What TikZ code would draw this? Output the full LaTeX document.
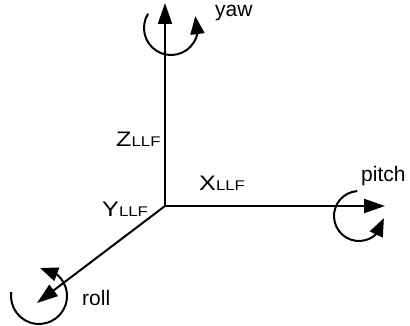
\documentclass[tikz,border=0pt]{standalone}
\usepackage{fontspec}
\setmainfont{Liberation Sans}
\newfontfamily\axfont[FakeStretch=1.2]{Liberation Sans}
\usetikzlibrary{arrows.meta,bending,calc}
\newcommand{\axlab}[1]{{\axfont\fontsize{21}{21}\selectfont #1}{\axfont\fontsize{14}{14}\selectfont LLF}}
\begin{document}
\begin{tikzpicture}[x=1pt,y=-1pt,
  axis/.style={line width=2pt,-{Triangle[length=21pt,width=14pt]}},
  rot/.style={line width=2pt,-{Triangle[length=18pt,width=14pt,flex]}},
  lab/.style={anchor=base west,inner sep=0pt,font=\fontsize{21}{21}\selectfont},
  alab/.style={anchor=base west,inner sep=0pt}]
\useasboundingbox (0,0) rectangle (410,326);
\coordinate (O) at (165,206);
\coordinate (Zt) at (165,3);
\coordinate (Xt) at (385,206);
\coordinate (Yt) at (37,303);
\draw[axis] (O) -- (Zt);
\draw[axis] (O) -- (Xt);
\draw[axis] (O) -- (Yt);
% yaw
\coordinate (yc) at (171,28);
\draw[rot] ($(yc)+(212:27)$) arc[start angle=212,end angle=-26,radius=27];
% pitch
\coordinate (pc) at (359,216);
\draw[rot] ($(pc)+(266:25)$) arc[start angle=266,end angle=5,radius=25];
% roll
\coordinate (rc) at (39,296);
\draw[rot] ($(rc)+(188:28)$) arc[start angle=188,end angle=-88,radius=28];
\node[lab] (yaw) at (215,17) {yaw};
\node[lab] (pitch) at (361,182) {pitch};
\node[lab] (roll) at (82,305) {roll};
\node[alab] (zl) at (116,147) {\axlab{Z}};
\node[alab] (xl) at (199,191) {\axlab{X}};
\node[alab] (yl) at (102,217) {\axlab{Y}};
\end{tikzpicture}
\end{document}
